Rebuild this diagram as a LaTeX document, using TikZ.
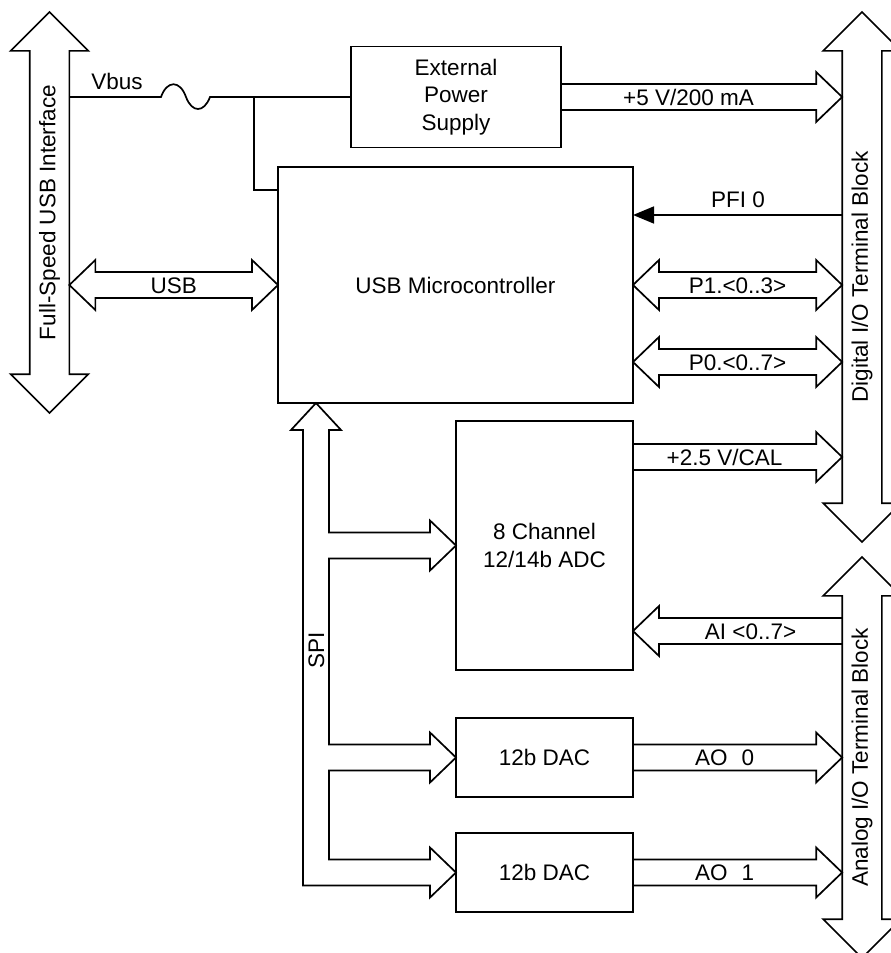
\documentclass[tikz,border=0pt]{standalone}
\usepackage{fontspec}
\setmainfont{Liberation Sans}
\usetikzlibrary{arrows.meta,calc,positioning,shapes.arrows}

\tikzset{
  wire/.style={line width=1.7pt},
  block/.style={draw,line width=1.7pt,outer sep=0pt,align=center},
  bus/.style={draw,line width=1.7pt,line join=miter},
  termbus/.style={double arrow,draw,line width=1.7pt,rotate=90,outer sep=0pt,
    double arrow head extend=19pt,double arrow tip angle=90,minimum width=0pt,
    text height=16pt,text depth=4.5pt,inner ysep=8.75pt,inner xsep=0pt},
  buslabel/.style={inner sep=0pt,text height=16pt,text depth=0pt},
}

% wide bus, one head at #2
\newcommand{\busto}[3]{%
  \draw[bus] ($(#1)+(0,-13)$) -- ($(#2)!26pt!(#1)+(0,-13)$) -- ++(0,-12) -- (#2)
    -- ($(#2)!26pt!(#1)+(0,25)$) -- ++(0,-12) -- ($(#1)+(0,13)$);
  \node[buslabel] at ($(#1)!0.5!(#2)!13pt!(#1)$) {#3};}
% wide bus, heads at both ends
\newcommand{\busboth}[3]{%
  \draw[bus] (#1) -- ($(#1)!26pt!(#2)+(0,-25)$) -- ++(0,12) -- ($(#2)!26pt!(#1)+(0,-13)$)
    -- ++(0,-12) -- (#2) -- ($(#2)!26pt!(#1)+(0,25)$) -- ++(0,-12)
    -- ($(#1)!26pt!(#2)+(0,13)$) -- ++(0,12) -- cycle;
  \node[buslabel] at ($(#1)!0.5!(#2)$) {#3};}

\begin{document}
\begin{tikzpicture}[x=1pt,y=-1pt,font=\fontsize{22.5}{27.5}\selectfont]
\useasboundingbox (0,0) rectangle (891,953);

% terminal buses
\node[termbus,minimum height=401pt] (usbif) at (49.5,212.5) {Full-Speed USB Interface};
\node[termbus,minimum height=530pt] (dio) at (862,277) {Digital I/O Terminal Block};
\node[termbus,minimum height=401pt] (aio) at (862,757.5) {Analog I/O Terminal Block};

% blocks
\node[block,minimum width=210pt,minimum height=101pt] (eps) at (456,97) {External\\Power\\Supply};
\node[block,minimum width=355pt,minimum height=236pt] (mcu) at (455.5,285) {USB Microcontroller};
\node[block,minimum width=177pt,minimum height=249pt] (adc) at (544.5,545.5) {8 Channel\\12/14b ADC};
\node[block,minimum width=177pt,minimum height=79pt] (dac0) at (544.5,757.5) {12b DAC};
\node[block,minimum width=177pt,minimum height=79pt] (dac1) at (544.5,872.5) {12b DAC};

% Vbus with fuse
\coordinate (fusea) at (161,97);
\coordinate (fuseb) at (210,97);
\coordinate (vtap) at (254,97);
\node (vbus) at (117,81.5) {Vbus};
\draw[wire] (usbif.south |- eps.west) -- (fusea)
  .. controls +(6,-17) and +(-6,-17) .. ++(25,0)
  .. controls +(6,16) and +(-6,16) .. (fuseb) -- (eps.west);
\draw[wire] (vtap) |- ($(mcu.north west)+(0,23)$);

% digital side
\coordinate (pfi) at (dio.north |- 0,215);
\coordinate (p0) at (dio.north |- 0,362);
\coordinate (cal) at (dio.north |- 0,457);
\coordinate (ai) at (aio.north |- 0,631);
\busto{eps.east}{dio.north |- eps.east}{+5 V/200 mA}
\draw[wire,-{Triangle[length=21pt,width=17pt]}] (pfi) -- (pfi -| mcu.east);
\node (pfilbl) at (738,200) {PFI 0};
\busboth{mcu.east}{dio.north |- mcu.east}{P1.<0..3>}
\busboth{mcu.east |- p0}{p0}{P0.<0..7>}
\busto{adc.east |- cal}{cal}{+2.5 V/CAL}

% analog side
\busto{ai}{adc.east |- ai}{AI <0..7>}
\busto{dac0.east}{aio.north |- dac0.east}{AO\hspace{14pt}0}
\busto{dac1.east}{aio.north |- dac1.east}{AO\hspace{14pt}1}

% USB link
\busboth{usbif.south |- mcu.west}{mcu.west}{USB}

% SPI bus
\coordinate (spitip) at ($(mcu.south west)+(38,0)$);
\coordinate (spir) at ($(spitip)+(13,27)$);
\coordinate (spil) at ($(spitip)+(-13,27)$);
\draw[bus] (spitip) -- ++(25,27) -- (spir)
  -- ($(spir |- adc.west)+(0,-13)$) -- ($(adc.west)+(-26,-13)$) -- ++(0,-12) -- (adc.west)
  -- ++(-26,25) -- ++(0,-12) -- ($(spir |- adc.west)+(0,13)$)
  -- ($(spir |- dac0.west)+(0,-13)$) -- ($(dac0.west)+(-26,-13)$) -- ++(0,-12) -- (dac0.west)
  -- ++(-26,25) -- ++(0,-12) -- ($(spir |- dac0.west)+(0,13)$)
  -- ($(spir |- dac1.west)+(0,-13)$) -- ($(dac1.west)+(-26,-13)$) -- ++(0,-12) -- (dac1.west)
  -- ++(-26,25) -- ++(0,-12) -- ($(spil |- dac1.west)+(0,13)$)
  -- (spil) -- ++(-12,0) -- cycle;
\node[rotate=90] (spi) at (316.5,650) {SPI};
\end{tikzpicture}
\end{document}
